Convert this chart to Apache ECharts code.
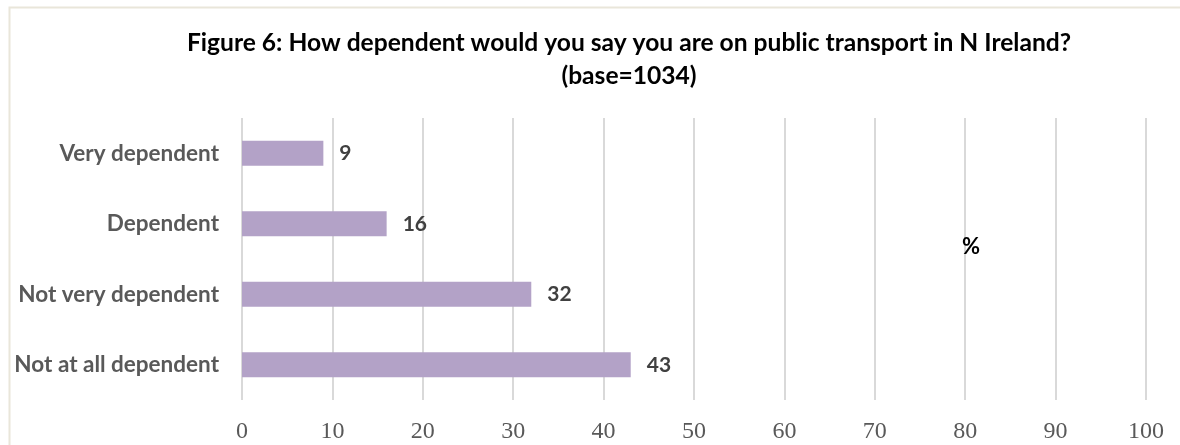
<!DOCTYPE html>
<html>
<head>
<meta charset="utf-8">
<script src="https://cdn.jsdelivr.net/npm/echarts@6/dist/echarts.min.js"></script>
<style>
  html, body { margin: 0; padding: 0; background: #ffffff; }
  #chart { width: 1180px; height: 445px; }
</style>
</head>
<body>
<div id="chart"></div>
<script>
// Survey responses, listed top to bottom
const categories = ['Very dependent', 'Dependent', 'Not very dependent', 'Not at all dependent'];
const percentages = [9, 16, 32, 43];
const xTicks = [0, 10, 20, 30, 40, 50, 60, 70, 80, 90, 100];

const chart = echarts.init(document.getElementById('chart'));

chart.setOption({
  backgroundColor: '#ffffff',
  animation: false,
  title: [{
    text: 'Figure 6: How dependent would you say you are on public transport in N Ireland?\n(base=1034)',
    left: 624,
    top: 22,
    textAlign: 'center',
    textStyle: {
      fontFamily: 'Lato',
      fontWeight: 'bold',
      fontSize: 24.6,
      lineHeight: 33,
      color: '#000000'
    }
  }],
  graphic: [
    {
      type: 'rect',
      shape: { x: 9.5, y: 7.5, width: 1200, height: 500 },
      style: { fill: 'none', stroke: '#e9e6da', lineWidth: 2 },
      silent: true
    },
    {
      type: 'text',
      x: 962,
      y: 236,
      z: 100,
      zlevel: 1,
      style: {
        text: '%',
        fontFamily: 'Lato',
        fontWeight: 'bold',
        fontSize: 22,
        fill: '#000000'
      }
    }
  ],
  grid: { left: 242, right: 34, top: 118, bottom: 45, containLabel: false },
  xAxis: {
    type: 'value',
    min: 0,
    max: 100,
    interval: 10,
    axisLine: { show: false },
    axisTick: { show: false },
    splitLine: { show: true, lineStyle: { color: '#d9d9d9', width: 2 } },
    axisLabel: {
      margin: 20,
      fontFamily: '"Liberation Serif", serif',
      fontSize: 24,
      color: '#595959',
      formatter: function (v) { return xTicks.indexOf(v) >= 0 ? String(v) : ''; }
    }
  },
  yAxis: {
    type: 'category',
    data: categories,
    inverse: true,
    axisLine: { show: false },
    axisTick: { show: false },
    axisLabel: {
      margin: 23,
      fontFamily: 'Lato',
      fontWeight: 'bold',
      fontSize: 22.5,
      color: '#595959'
    }
  },
  series: [{
    type: 'bar',
    data: percentages,
    barWidth: 25,
    itemStyle: { color: '#b3a2c7' },
    label: {
      show: true,
      position: 'right',
      distance: 16,
      fontFamily: 'Lato',
      fontWeight: 'bold',
      fontSize: 21,
      color: '#404040'
    }
  }]
});
</script>
</body>
</html>
